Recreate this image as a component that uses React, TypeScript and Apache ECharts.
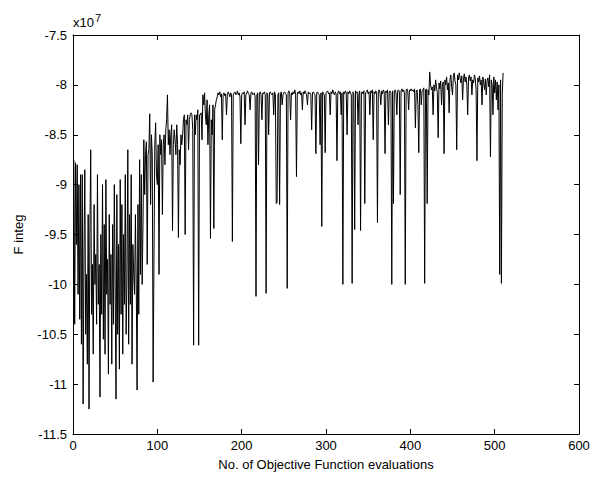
import React, { useEffect, useRef } from "react";
import * as echarts from "echarts";

// F integ values (units of 1e7), evaluation 1..510
const regionA: number[] = [
  -8.75, -10.4, -8.78, -9.6, -8.8, -10.1, -9.0, -10.35, -8.9, -10.6,
  -8.9, -11.2, -9.7, -8.85, -10.5, -9.9, -10.8, -9.3, -11.25, -9.5,
  -8.65, -10.3, -9.8, -10.7, -9.2, -10.0, -9.7, -10.4, -8.9, -10.2,
  -9.8, -11.13, -9.5, -10.3, -9.0, -10.55, -9.4, -10.7, -8.95, -10.1,
  -9.75, -10.9, -9.3, -10.2, -9.7, -10.8, -9.4, -10.4, -9.0, -10.0,
  -11.15, -9.1, -10.5, -9.6, -10.85, -8.95, -10.3, -9.2, -10.7, -9.5,
  -10.2, -8.9, -10.5, -9.9, -8.65, -10.6, -9.3, -10.2, -8.9, -10.8,
  -9.6, -9.9, -10.1, -9.3, -10.0, -11.06, -9.2, -10.3, -8.75, -9.9,
  -8.9, -10.0, -9.4, -8.55, -9.1, -8.7, -8.57, -9.8, -8.7, -8.65,
  -8.29, -9.2, -8.5, -8.7, -10.98, -9.75, -8.6, -8.38, -8.9, -9.0,
];
const regionB: number[] = [
  -8.6, -9.9, -8.5, -8.7, -8.55, -9.3, -8.6, -8.5, -8.8, -8.45,
  -8.35, -8.1, -8.6, -8.45, -8.7, -8.5, -8.4, -9.46, -8.6, -8.45,
  -8.55, -8.7, -8.4, -8.6, -9.53, -8.65, -8.8, -8.5, -8.6, -8.5,
  -8.35, -8.3, -9.5, -8.35, -8.4, -8.3, -8.65, -8.35, -8.3, -8.28,
  -8.3, -8.45, -10.61, -8.3, -8.5, -8.3, -8.35, -8.25, -10.61, -8.3,
  -8.3, -8.28, -8.55, -8.1, -8.2, -8.08, -8.3, -8.4, -8.15, -8.6,
  -8.3, -8.2, -9.54, -8.35, -8.5, -8.2, -9.44, -8.25, -8.2, -8.15,
];
const regionC: number[] = [
  -8.12, -8.08, -8.1, -8.07, -8.12, -8.09, -8.55, -8.1, -8.08, -8.11,
  -8.09, -8.3, -8.1, -8.07, -8.09, -8.12, -8.08, -8.1, -9.57, -8.1,
  -8.08, -8.07, -8.1, -8.09, -8.06, -8.1, -8.08, -8.12, -8.59, -8.1,
  -8.08, -8.09, -8.07, -8.4, -8.1, -8.08, -8.06, -8.09, -8.1, -8.25,
  -8.08, -8.07, -8.1, -8.09, -8.08, -8.12, -10.12, -8.1, -8.08, -8.8,
  -8.09, -8.07, -8.1, -8.35, -8.08, -8.09, -8.07, -8.1, -10.09, -8.08,
  -8.1, -8.5, -8.08, -8.07, -8.09, -8.1, -8.08, -8.3, -8.07, -8.1,
  -9.19, -9.18, -8.1, -8.08, -9.2, -8.09, -8.07, -8.2, -8.1, -8.08,
  -8.07, -8.09, -8.1, -10.04, -8.08, -8.06, -8.09, -8.35, -8.08, -8.1,
  -8.07, -8.09, -8.05, -8.1, -8.92, -8.08, -8.07, -8.09, -8.06, -8.1,
  -8.08, -8.25, -8.07, -8.09, -8.06, -8.08, -8.1, -8.2, -8.07, -8.09,
  -8.08, -8.1, -8.45, -8.08, -8.07, -8.09, -8.1, -8.69, -8.08, -8.07,
  -8.09, -8.1, -8.6, -8.08, -9.42, -8.07, -8.09, -8.1, -8.68, -8.08,
  -8.07, -8.06, -8.09, -8.08, -8.3, -8.07, -8.09, -8.05, -8.08, -8.1,
  -8.07, -8.09, -8.76, -8.08, -8.06, -8.09, -8.07, -8.3, -8.08, -10.0,
  -8.07, -8.09, -8.06, -8.08, -8.5, -8.07, -8.09, -8.06, -8.08, -8.1,
  -9.99, -8.07, -8.09, -9.45, -8.06, -8.08, -8.07, -8.4, -8.09, -8.06,
  -9.46, -8.08, -8.07, -8.09, -8.06, -9.19, -8.08, -8.07, -8.05, -8.09,
  -8.07, -8.3, -8.06, -8.08, -8.05, -8.55, -8.07, -8.09, -8.06, -8.08,
  -9.38, -8.07, -8.05, -8.08, -8.2, -8.06, -8.09, -8.05, -8.07, -8.69,
  -8.06, -8.08, -8.05, -8.4, -8.07, -8.06, -8.08, -10.0, -8.06, -9.19,
  -8.07, -8.05, -8.08, -8.3, -8.06, -8.05, -8.07, -9.1, -8.06, -8.04,
  -8.07, -8.05, -8.08, -10.0, -8.06, -8.04, -8.07, -8.25, -8.05, -8.06,
];
const regionD: number[] = [
  -8.04, -8.06, -8.05, -8.07, -8.04, -8.43, -8.06, -8.05, -8.2, -8.68,
  -8.05, -8.04, -8.2, -8.06, -8.05, -8.03, -9.99, -8.05, -8.04, -9.19,
  -8.05, -8.1, -7.87, -8.0, -8.05, -8.02, -8.3, -8.0, -8.06, -7.95,
  -8.02, -8.08, -8.53, -7.98, -8.04, -7.96, -8.2, -8.0, -7.97, -8.69,
  -7.95, -8.0, -7.92, -8.05, -7.98, -8.28, -7.95, -7.9, -8.02, -8.1,
  -7.92, -7.88, -7.96, -8.0, -8.65, -7.9, -7.95, -7.88, -7.93, -7.98,
  -7.91, -8.15, -7.94, -7.89, -7.97, -7.92, -8.0, -8.3, -7.93, -7.9,
  -7.96, -7.92, -8.1, -7.95, -7.98, -7.9, -7.94, -8.05, -8.76, -7.93,
  -7.97, -7.91, -8.0, -7.95, -8.2, -7.92, -7.98, -8.05, -7.94, -8.1,
  -7.96, -7.93, -8.02, -7.9, -8.72, -7.95, -8.0, -8.3, -7.92, -8.08,
  -7.95, -8.15, -7.97, -8.25, -8.0, -9.9, -7.95, -9.99, -8.1, -7.88,
];

const xTicks = [0, 100, 200, 300, 400, 500, 600];
const yTicks = [-11.5, -11, -10.5, -10, -9.5, -9, -8.5, -8, -7.5];

const fInteg: number[] = [...regionA, ...regionB, ...regionC, ...regionD];

export default function App() {
  const ref = useRef<HTMLDivElement>(null);
  useEffect(() => {
    if (!ref.current) return;
    const chart = echarts.init(ref.current, undefined, { renderer: "svg" });
    const font = "Arial, 'Liberation Sans', sans-serif";
    const data = fInteg.map((v, i) => [i + 1, v]);
    const axisLine = { show: true, onZero: false, lineStyle: { color: "#000", width: 1 } };
    const tick = { show: true, inside: true, length: 5, lineStyle: { color: "#000" } };
    const xBase = {
      type: "value" as const,
      min: xTicks[0],
      max: xTicks[xTicks.length - 1],
      interval: 100,
      axisLine,
      axisTick: tick,
      splitLine: { show: false },
    };
    const yBase = {
      type: "value" as const,
      min: yTicks[0],
      max: yTicks[yTicks.length - 1],
      interval: 0.5,
      axisLine,
      axisTick: tick,
      splitLine: { show: false },
    };
    chart.setOption({
      animation: false,
      backgroundColor: "#fff",
      grid: { left: 73, right: 15, top: 35, bottom: 50, containLabel: false },
      xAxis: [
        {
          ...xBase,
          position: "bottom",
          name: "No. of Objective Function evaluations",
          nameLocation: "middle",
          nameGap: 24,
          nameTextStyle: { color: "#000", fontFamily: font, fontSize: 13 },
          axisLabel: { color: "#000", fontFamily: font, fontSize: 13, margin: 5 },
        },
        { ...xBase, position: "top", axisLabel: { show: false } },
      ],
      yAxis: [
        {
          ...yBase,
          position: "left",
          name: "F integ",
          nameLocation: "middle",
          nameGap: 48,
          nameTextStyle: { color: "#000", fontFamily: font, fontSize: 13 },
          axisLabel: {
            color: "#000",
            fontFamily: font,
            fontSize: 13,
            margin: 6,
            formatter: (v: number) => String(v),
          },
        },
        { ...yBase, position: "right", axisLabel: { show: false } },
      ],
      graphic: [
        {
          type: "text",
          left: 73,
          top: 12,
          style: {
            text: "x10{s|7}",
            fontFamily: font,
            fontSize: 13,
            fill: "#000",
            rich: { s: { fontSize: 11, verticalAlign: "top", padding: [0, 0, 10, 1], fontFamily: font } },
          },
        },
      ],
      series: [
        {
          type: "line",
          data,
          showSymbol: false,
          symbol: "none",
          lineStyle: { color: "#000", width: 1 },
          xAxisIndex: 0,
          yAxisIndex: 0,
        },
      ],
    });
    return () => chart.dispose();
  }, []);
  return (
    <div
      ref={ref}
      style={{ position: "fixed", left: 0, top: 0, width: 594, height: 484, background: "#fff" }}
    />
  );
}
